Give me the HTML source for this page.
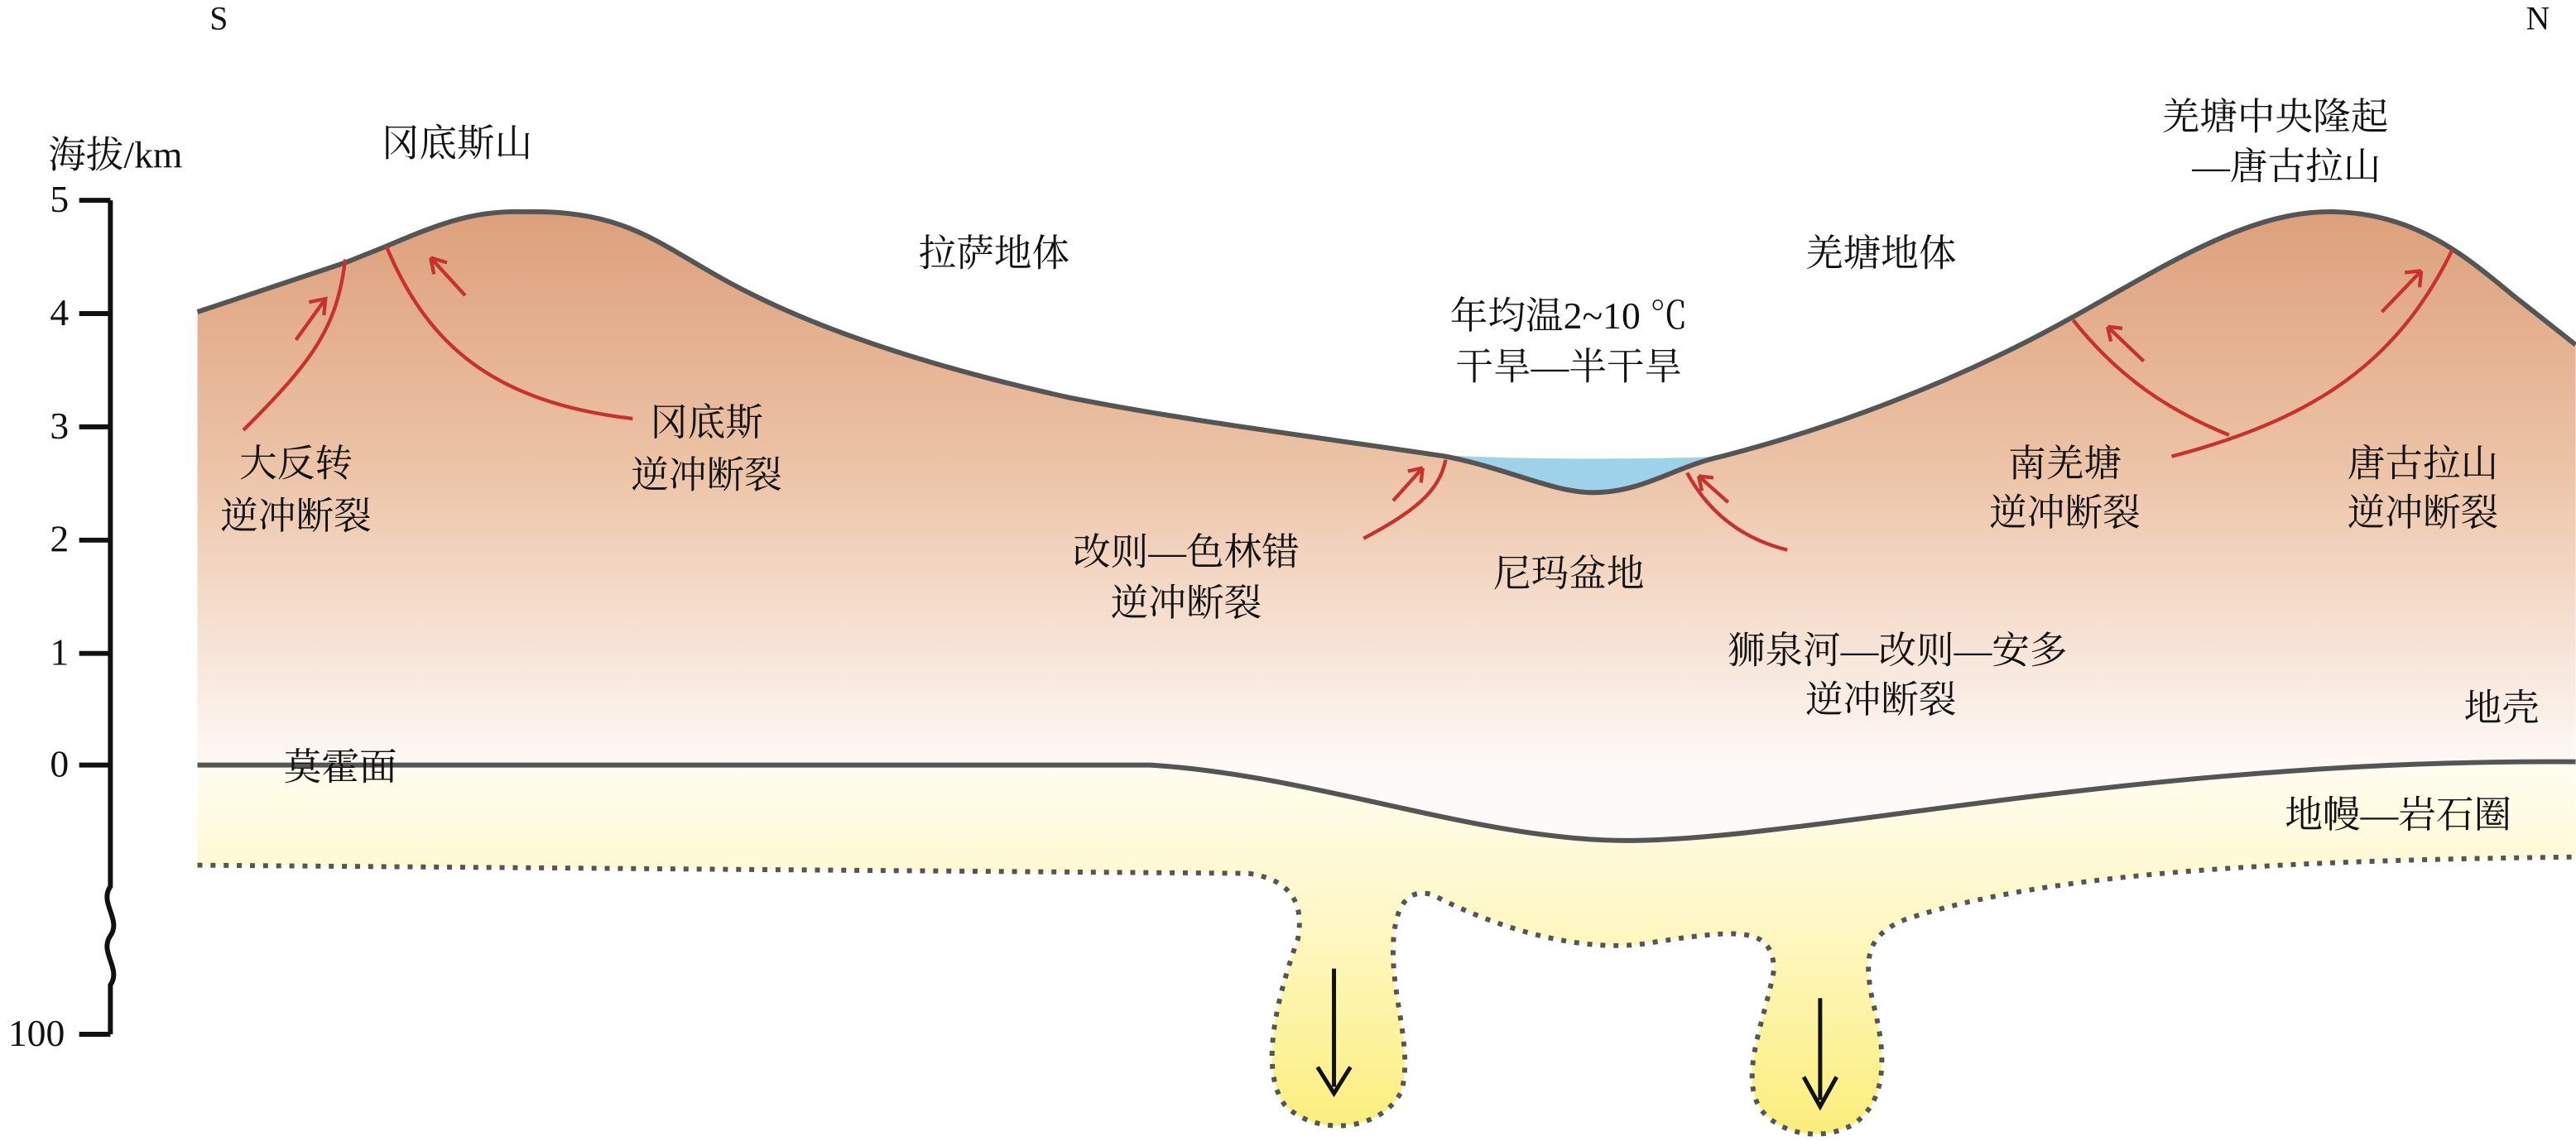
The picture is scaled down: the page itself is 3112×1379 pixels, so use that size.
<!DOCTYPE html>
<html><head><meta charset="utf-8"><style>
html,body{margin:0;padding:0;background:#fff;}
svg{display:block;}
text{font-family:"Liberation Serif","Noto Serif CJK SC","Noto Sans CJK SC",serif;fill:#111;font-size:23px;text-anchor:middle;}
</style></head><body>
<svg width="3112" height="1379" viewBox="0 0 1568 695" xmlns="http://www.w3.org/2000/svg">
<defs>
<linearGradient id="cg" x1="0" y1="130" x2="0" y2="470" gradientUnits="userSpaceOnUse">
<stop offset="0" stop-color="#dda07c"/><stop offset="0.45" stop-color="#ecc3a6"/><stop offset="1" stop-color="#fefaf8"/></linearGradient>
<linearGradient id="mg" x1="0" y1="466" x2="0" y2="690" gradientUnits="userSpaceOnUse">
<stop offset="0" stop-color="#fffdf0"/><stop offset="0.4" stop-color="#fef8c8"/><stop offset="1" stop-color="#fbee7c"/></linearGradient>
</defs>
<path d="M120,466 L700,466 C800,472 900,512 990,512 C1100,512 1300,462 1568,464 L1568,522 C1400,524 1250,530 1160,560 C1135,570 1135,585 1140,610 C1148,640 1150,670 1128,685 C1110,695 1085,692 1072,676 C1058,655 1075,620 1080,590 C1078,565 1062,565 1000,575 C960,580 910,565 872,545 C855,540 848,555 848,580 C848,610 860,640 853,665 C840,690 800,692 782,673 C765,650 780,600 790,572 C795,545 780,535 760,532 L120,527 Z" fill="url(#mg)"/>
<path d="M120,527 L760,532 C780,535 795,545 790,572 C780,600 765,650 782,673 C800,692 840,690 853,665 C860,640 848,610 848,580 C848,555 855,540 872,545 C910,565 960,580 1000,575 C1062,565 1078,565 1080,590 C1075,620 1058,655 1072,676 C1085,692 1110,695 1128,685 C1150,670 1148,640 1140,610 C1135,585 1135,570 1160,560 C1250,530 1400,524 1568,522" fill="none" stroke="#555" stroke-width="3" stroke-dasharray="3,5"/>
<path d="M120,190 L210,160 L235,150 C270,135 290,128 320,129 C380,128 400,148 440,170 C490,198 560,222 650,242 C720,256 800,266 880,278 C920,286 945,300 970,300 C1000,300 1020,284 1048,278 C1110,262 1170,240 1230,210 C1300,175 1360,128 1420,129 C1470,130 1500,155 1530,180 L1568,210 L1568,464 C1300,462 1100,512 990,512 C900,512 800,472 700,466 L120,466 Z" fill="url(#cg)"/>
<path d="M875,277 C920,280 1000,280 1048,278 C1020,284 1000,300 970,300 C945,300 920,286 880,278 Z" fill="#9dd2ea"/>
<path d="M120,190 L210,160 L235,150 C270,135 290,128 320,129 C380,128 400,148 440,170 C490,198 560,222 650,242 C720,256 800,266 880,278 C920,286 945,300 970,300 C1000,300 1020,284 1048,278 C1110,262 1170,240 1230,210 C1300,175 1360,128 1420,129 C1470,130 1500,155 1530,180 L1568,210" fill="none" stroke="#555" stroke-width="3"/>
<path d="M120,466 L700,466 C800,472 900,512 990,512 C1100,512 1300,462 1568,464" fill="none" stroke="#555" stroke-width="3"/>
<g fill="none" stroke="#c8322e" stroke-width="2.2">
<path d="M148,262 C190,220 205,200 210,158"/>
<path d="M180,207 L198,182 M188,184 L198,182 L197,192"/>
<path d="M235,150 C260,210 300,245 385,255"/>
<path d="M283,180 L262,157 M262,157 L272,160 M262,157 L264,167"/>
<path d="M830,328 C860,312 876,300 880,280"/>
<path d="M848,305 L866,285 M866,285 L857,287 M866,285 L865,294"/>
<path d="M1027,288 C1040,312 1060,328 1088,335"/>
<path d="M1052,306 L1034,290 M1034,290 L1036,299 M1034,290 L1043,291"/>
<path d="M1262,195 C1290,230 1320,250 1357,265"/>
<path d="M1305,220 L1283,199 M1283,199 L1285,208 M1283,199 L1292,200"/>
<path d="M1493,152 C1460,220 1410,255 1322,278"/>
<path d="M1450,190 L1474,165 M1474,165 L1464,166 M1474,165 L1473,175"/>
</g>
<g stroke="#111" stroke-width="2.5" fill="none">
<path d="M812,590 L812,662 M802,650 L812,666 L822,650"/>
<path d="M1108,608 L1108,670 M1098,656 L1108,674 L1118,656"/>
</g>
<g stroke="#111" stroke-width="3" fill="none">
<path d="M67,122 L67,540 C60,550 74,560 67,570 C60,580 74,590 67,600 L67,630"/>
<path d="M48,122 L67,122 M48,191 L67,191 M48,260 L67,260 M48,329 L67,329 M48,398 L67,398 M48,466 L67,466 M48,630 L67,630"/>
</g>
<g style="font-size:21px">
<text x="36" y="129">5</text><text x="36" y="198">4</text><text x="36" y="267">3</text><text x="36" y="336">2</text><text x="36" y="405">1</text><text x="36" y="473">0</text><text x="22" y="637">100</text>
</g>
<text x="133" y="18" style="font-size:20px">S</text>
<text x="1545" y="18" style="font-size:20px">N</text>
<text x="70" y="102">海拔/km</text>
<text x="278" y="95">冈底斯山</text>
<text x="605" y="162">拉萨地体</text>
<text x="1145" y="162">羌塘地体</text>
<text x="1385" y="79">羌塘中央隆起</text>
<text x="1392" y="109">—唐古拉山</text>
<text x="955" y="200">年均温2~10 ℃</text>
<text x="955" y="231">干旱—半干旱</text>
<text x="180" y="290">大反转</text><text x="180" y="322">逆冲断裂</text>
<text x="430" y="265">冈底斯</text><text x="430" y="297">逆冲断裂</text>
<text x="722" y="344">改则—色林错</text><text x="722" y="375">逆冲断裂</text>
<text x="955" y="357">尼玛盆地</text>
<text x="1257" y="290">南羌塘</text><text x="1257" y="320">逆冲断裂</text>
<text x="1475" y="290">唐古拉山</text><text x="1475" y="320">逆冲断裂</text>
<text x="1155" y="404">狮泉河—改则—安多</text><text x="1145" y="434">逆冲断裂</text>
<text x="1523" y="439">地壳</text>
<text x="207" y="475">莫霍面</text>
<text x="1460" y="504">地幔—岩石圈</text>
</svg>
</body></html>
